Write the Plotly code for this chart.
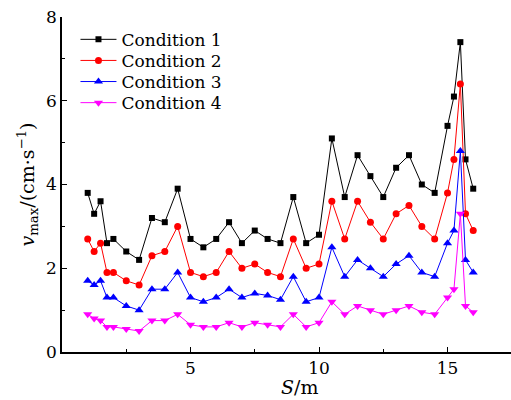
import plotly.graph_objects as go

S = [1.0, 1.25, 1.5, 1.75, 2.0, 2.5, 3.0, 3.5, 4.0, 4.5, 5.0, 5.5, 6.0, 6.5, 7.0, 7.5,
     8.0, 8.5, 9.0, 9.5, 10.0, 10.5, 11.0, 11.5, 12.0, 12.5, 13.0, 13.5, 14.0, 14.5,
     15.0, 15.25, 15.5, 15.7, 16.0]

cond1 = [3.8, 3.3, 3.6, 2.6, 2.7, 2.4, 2.2, 3.2, 3.1, 3.9, 2.7, 2.5, 2.7, 3.1, 2.6, 2.9,
         2.7, 2.6, 3.7, 2.6, 2.8, 5.1, 3.7, 4.7, 4.2, 3.7, 4.4, 4.7, 4.0, 3.8,
         5.4, 6.1, 7.4, 4.6, 3.9]
cond2 = [2.7, 2.4, 2.6, 1.9, 1.9, 1.7, 1.6, 2.3, 2.4, 3.0, 1.9, 1.8, 1.9, 2.4, 2.0, 2.1,
         1.9, 1.8, 2.7, 2.0, 2.1, 3.6, 2.7, 3.6, 3.1, 2.7, 3.3, 3.5, 3.0, 2.7,
         3.8, 4.6, 6.4, 3.3, 2.9]
cond3 = [1.7, 1.6, 1.7, 1.3, 1.3, 1.1, 1.0, 1.5, 1.5, 1.9, 1.3, 1.2, 1.3, 1.5, 1.3, 1.4,
         1.35, 1.25, 1.8, 1.2, 1.3, 2.5, 1.8, 2.2, 2.0, 1.8, 2.1, 2.3, 1.9, 1.8,
         2.6, 2.9, 4.8, 2.2, 1.9]
cond4 = [0.9, 0.8, 0.75, 0.6, 0.6, 0.55, 0.5, 0.75, 0.75, 0.9, 0.65, 0.6, 0.6, 0.7, 0.6, 0.7,
         0.65, 0.6, 0.9, 0.6, 0.7, 1.2, 0.9, 1.1, 1.0, 0.9, 1.0, 1.1, 0.95, 0.9,
         1.3, 1.5, 3.3, 1.1, 0.95]

names = ["Condition 1", "Condition 2", "Condition 3", "Condition 4"]
colors = ["#000000", "#ff0000", "#0000ff", "#ff00ff"]
symbols = ["square", "circle", "triangle-up", "triangle-down"]
sizes = [6, 7, 8, 8]
series = [cond1, cond2, cond3, cond4]
legend_ids = ["legend", "legend2", "legend3", "legend4"]

FONT = "DejaVu Serif"

fig = go.Figure()
for nm, col, sym, sz, ys, lg in zip(names, colors, symbols, sizes, series, legend_ids):
    fig.add_trace(go.Scatter(
        x=S, y=ys, name=nm, mode="lines+markers", legend=lg,
        line=dict(color=col, width=1),
        marker=dict(symbol=sym, size=sz, color=col),
    ))

axis_common = dict(
    showgrid=False, zeroline=False, showline=True, linecolor="black", linewidth=1.5,
    ticks="inside", ticklen=5, tickwidth=1.2, tickcolor="black", mirror=False,
    tickfont=dict(family=FONT, size=17, color="black"),
)

row_y = [0.932, 0.869, 0.806, 0.743]
legend_common = dict(x=0.03, xanchor="left", yanchor="middle", bgcolor="rgba(0,0,0,0)",
                     font=dict(family=FONT, size=17, color="black"), itemwidth=36)

layout_legends = {lg: dict(y=yy, **legend_common) for lg, yy in zip(legend_ids, row_y)}

fig.update_layout(
    width=511, height=400,
    margin=dict(l=62, r=0, t=17, b=48),
    paper_bgcolor="white", plot_bgcolor="white",
    font=dict(family=FONT, size=17, color="black"),
    showlegend=True,
    xaxis=dict(range=[0, 17.47], tickvals=[5, 10, 15],
               minor=dict(tickvals=[2.5, 7.5, 12.5], ticks="inside", ticklen=3, tickcolor="black"),
               **axis_common),
    yaxis=dict(range=[0, 8], tickvals=[0, 2, 4, 6, 8],
               minor=dict(tickvals=[1, 3, 5, 7], ticks="inside", ticklen=3, tickcolor="black"),
               title=dict(text="<i>v</i><sub>max</sub>/(cm·s<sup>−1</sup>)",
                          font=dict(family=FONT, size=19), standoff=6),
               **axis_common),
    annotations=[dict(text="<i>S</i>/m", xref="paper", yref="paper", x=0.53, y=-0.105,
                      xanchor="center", yanchor="middle", showarrow=False,
                      font=dict(family=FONT, size=19, color="black"))],
    **layout_legends,
)

fig.write_html("out.html")
